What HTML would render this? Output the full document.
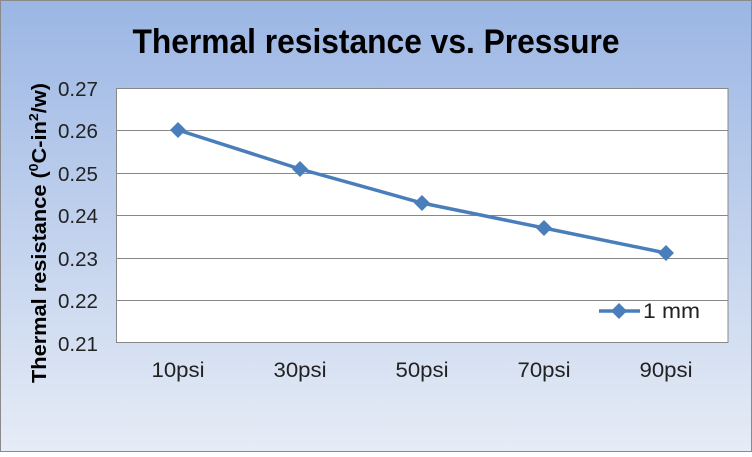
<!DOCTYPE html>
<html><head><style>
body{margin:0}
svg text{font-family:"Liberation Sans",Arial,sans-serif}
</style></head><body>
<svg width="752" height="452" viewBox="0 0 752 452" xmlns="http://www.w3.org/2000/svg">
<defs><linearGradient id="bg" x1="0" y1="0" x2="0" y2="1">
<stop offset="0" stop-color="#9bb6e4"/><stop offset="1" stop-color="#e6ecf6"/></linearGradient></defs>
<rect x="0.5" y="0.5" width="751" height="451" fill="url(#bg)" stroke="#8a8a8a"/>
<text x="376" y="53" text-anchor="middle" font-size="34" font-weight="bold" textLength="487" lengthAdjust="spacingAndGlyphs">Thermal resistance vs. Pressure</text>
<rect x="116.5" y="88.5" width="611.5" height="254" fill="#fff" stroke="#888"/>
<g stroke="#888" stroke-width="1">
<line x1="116.5" y1="130.5" x2="728" y2="130.5"/>
<line x1="116.5" y1="173.5" x2="728" y2="173.5"/>
<line x1="116.5" y1="215.5" x2="728" y2="215.5"/>
<line x1="116.5" y1="258.5" x2="728" y2="258.5"/>
<line x1="116.5" y1="300.5" x2="728" y2="300.5"/>
</g>
<g font-size="20" fill="#222" text-anchor="end">
<text x="98" y="96" textLength="40" lengthAdjust="spacingAndGlyphs">0.27</text><text x="98" y="138" textLength="40" lengthAdjust="spacingAndGlyphs">0.26</text><text x="98" y="181" textLength="40" lengthAdjust="spacingAndGlyphs">0.25</text>
<text x="98" y="223" textLength="40" lengthAdjust="spacingAndGlyphs">0.24</text><text x="98" y="266" textLength="40" lengthAdjust="spacingAndGlyphs">0.23</text><text x="98" y="308" textLength="40" lengthAdjust="spacingAndGlyphs">0.22</text><text x="98" y="351" textLength="40" lengthAdjust="spacingAndGlyphs">0.21</text>
</g>
<g font-size="21" fill="#222" text-anchor="middle">
<text x="178" y="377" textLength="53" lengthAdjust="spacingAndGlyphs">10psi</text><text x="300" y="377" textLength="53" lengthAdjust="spacingAndGlyphs">30psi</text><text x="422" y="377" textLength="53" lengthAdjust="spacingAndGlyphs">50psi</text>
<text x="544" y="377" textLength="53" lengthAdjust="spacingAndGlyphs">70psi</text><text x="666" y="377" textLength="53" lengthAdjust="spacingAndGlyphs">90psi</text>
</g>
<text transform="translate(46,233) rotate(-90)" text-anchor="middle" font-size="20" font-weight="bold" textLength="300" lengthAdjust="spacingAndGlyphs">Thermal resistance  (<tspan font-size="13" dy="-8">0</tspan><tspan dy="8">C-in</tspan><tspan font-size="13" dy="-8">2</tspan><tspan dy="8">/w)</tspan></text>
<polyline points="178,130 300,169 422,203 544,228 666,253" fill="none" stroke="#4a7ebb" stroke-width="3.5"/>
<g fill="#4a7ebb">
<path d="M178,122 l8,8 l-8,8 l-8,-8z"/><path d="M300,161 l8,8 l-8,8 l-8,-8z"/>
<path d="M422,195 l8,8 l-8,8 l-8,-8z"/><path d="M544,220 l8,8 l-8,8 l-8,-8z"/>
<path d="M666,245 l8,8 l-8,8 l-8,-8z"/>
<line x1="599" y1="311" x2="640" y2="311" stroke="#4a7ebb" stroke-width="3.5"/>
<path d="M619,303 l8,8 l-8,8 l-8,-8z"/>
</g>
<text x="643" y="318" font-size="21" fill="#222" textLength="57" lengthAdjust="spacingAndGlyphs">1 mm</text>
</svg>
</body></html>
